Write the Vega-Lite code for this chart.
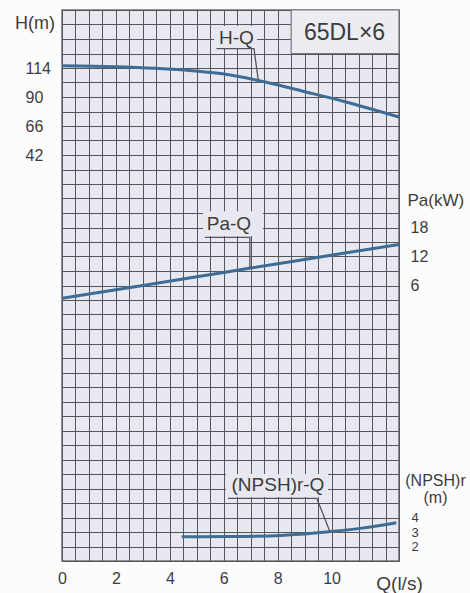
{
  "$schema": "https://vega.github.io/schema/vega-lite/v6.json",
  "width": 337,
  "height": 551,
  "autosize": {"type": "none"},
  "padding": {"left": 62, "top": 10, "right": 71, "bottom": 32},
  "background": "#fcfcfd",
  "config": {
    "font": "Liberation Sans",
    "view": {"fill": "#e8e8f1", "stroke": "#707078", "strokeWidth": 1.5},
    "axis": {"labelFont": "Liberation Sans", "titleFont": "Liberation Sans", "labelColor": "#3c3c3c", "titleColor": "#3c3c3c", "titleFontWeight": "normal", "domain": false, "ticks": false, "tickSize": 0, "labelOverlap": false, "labelFlush": false, "zindex": 0}
  },
  "datasets": {
    "hq": [
      {"Q": 0, "H": 115.9}, {"Q": 1.97, "H": 115.1}, {"Q": 3.45, "H": 113.8}, {"Q": 4.93, "H": 111.6},
      {"Q": 6.08, "H": 108.8}, {"Q": 7.53, "H": 102.4}, {"Q": 9.01, "H": 94.4}, {"Q": 10.5, "H": 86.1}, {"Q": 12.5, "H": 73.4}
    ],
    "pq": [
      {"Q": 0, "Pa": 3.35}, {"Q": 3, "Pa": 6.0}, {"Q": 6, "Pa": 8.7}, {"Q": 9, "Pa": 11.4}, {"Q": 12.5, "Pa": 14.5}
    ],
    "nq": [
      {"Q": 4.44, "NPSH": 2.67}, {"Q": 6.2, "NPSH": 2.69}, {"Q": 7.7, "NPSH": 2.72}, {"Q": 8.8, "NPSH": 2.84},
      {"Q": 9.9, "NPSH": 3.02}, {"Q": 11.05, "NPSH": 3.25}, {"Q": 12.4, "NPSH": 3.64}
    ],
    "boxes": [
      {"name": "H-Q", "q1": 5.64, "q2": 7.23, "h1": 148.8, "h2": 130.6},
      {"name": "Pa-Q", "q1": 5.23, "q2": 7.45, "h1": -4.5, "h2": -25.0},
      {"name": "(NPSH)r-Q", "q1": 6.08, "q2": 9.87, "h1": -222, "h2": -241}
    ],
    "model": [{"name": "65DL×6", "q1": 8.5, "q2": 12.5, "h1": 162, "h2": 126, "Q": 10.48, "h": 142.7}],
    "leaders": [
      {"name": "H-Q", "seq": 1, "Q": 5.73, "h": 130.0},
      {"name": "H-Q", "seq": 2, "Q": 7.12, "h": 130.0},
      {"name": "H-Q", "seq": 3, "Q": 7.28, "h": 104.0},
      {"name": "Pa-Q", "seq": 1, "Q": 5.3, "h": -26.1},
      {"name": "Pa-Q", "seq": 2, "Q": 6.97, "h": -26.1},
      {"name": "Pa-Q", "seq": 3, "Q": 6.97, "h": -51.9},
      {"name": "(NPSH)r-Q", "seq": 1, "Q": 6.16, "h": -242.1},
      {"name": "(NPSH)r-Q", "seq": 2, "Q": 9.45, "h": -242.1},
      {"name": "(NPSH)r-Q", "seq": 3, "Q": 9.94, "h": -269.8}
    ],
    "labels": [
      {"name": "H-Q", "Q": 6.47, "h": 138.8},
      {"name": "Pa-Q", "Q": 6.19, "h": -15.5},
      {"name": "(NPSH)r-Q", "Q": 8.01, "h": -231.1}
    ]
  },
  "layer": [
    {
      "data": {"name": "hq"},
      "mark": {"type": "line", "interpolate": "monotone", "stroke": "#3f6c94", "strokeWidth": 3},
      "encoding": {
        "x": {
          "field": "Q", "type": "quantitative",
          "scale": {"domain": [0, 12.5], "nice": false, "zero": false},
          "axis": {
            "orient": "bottom",
            "values": [0, 0.5, 1, 1.5, 2, 2.5, 3, 3.5, 4, 4.5, 5, 5.5, 6, 6.5, 7, 7.5, 8, 8.5, 9, 9.5, 10, 10.5, 11, 11.5, 12, 12.5],
            "labels": false, "title": null,
            "grid": true, "gridColor": "#55555c", "gridWidth": 1, "gridOpacity": 1
          }
        },
        "y": {
          "field": "H", "type": "quantitative",
          "scale": {"domain": [-294, 162], "nice": false, "zero": false},
          "axis": {
            "orient": "left",
            "values": [-294, -282, -270, -258, -246, -234, -222, -210, -198, -186, -174, -162, -150, -138, -126, -114, -102, -90, -78, -66, -54, -42, -30, -18, -6, 6, 18, 30, 42, 54, 66, 78, 90, 102, 114, 126, 138, 150, 162],
            "labelExpr": "indexof([42, 66, 90, 114], datum.value) >= 0 ? format(datum.value, 'd') : ''",
            "grid": true, "gridColor": "#55555c", "gridWidth": 1, "gridOpacity": 1,
            "labelFontSize": 16, "labelAlign": "left", "labelPadding": 37, "labelBaseline": "middle",
            "title": "H(m)", "titleFontSize": 18, "titleAngle": 0, "titleX": -27.5, "titleY": 13, "titleAlign": "center", "titleBaseline": "middle"
          }
        }
      }
    },
    {
      "data": {"name": "pq"},
      "mark": {"type": "line", "interpolate": "monotone", "stroke": "#3f6c94", "strokeWidth": 3},
      "encoding": {
        "x": {
          "field": "Q", "type": "quantitative",
          "scale": {"domain": [0, 12.5], "nice": false, "zero": false},
          "axis": {
            "orient": "bottom", "values": [0, 2, 4, 6, 8, 10], "format": "d", "grid": false,
            "labelFontSize": 16, "labelPadding": 9, "labelBaseline": "top",
            "title": "Q(l/s)", "titleFontSize": 19, "titleX": 337, "titleY": 22, "titleAlign": "center", "titleBaseline": "middle", "titleAngle": 0
          }
        },
        "y": {
          "field": "Pa", "type": "quantitative",
          "scale": {"domain": [-51, 63], "nice": false, "zero": false},
          "axis": {
            "orient": "right", "values": [6, 12, 18], "grid": false,
            "labelFontSize": 16, "labelAlign": "left", "labelPadding": 11, "labelBaseline": "middle",
            "title": "Pa(kW)", "titleFontSize": 17, "titleAngle": 0, "titleX": 8, "titleY": 190.7, "titleAlign": "left", "titleBaseline": "middle"
          }
        }
      }
    },
    {
      "data": {"name": "nq"},
      "mark": {"type": "line", "interpolate": "monotone", "stroke": "#3f6c94", "strokeWidth": 3},
      "encoding": {
        "x": {"field": "Q", "type": "quantitative", "scale": {"domain": [0, 12.5], "nice": false, "zero": false}, "axis": null},
        "y": {
          "field": "NPSH", "type": "quantitative",
          "scale": {"domain": [1, 39], "nice": false, "zero": false},
          "axis": {
            "orient": "right", "values": [2, 3, 4], "grid": false,
            "labelFontSize": 13, "labelAlign": "left", "labelPadding": 12, "labelBaseline": "middle",
            "title": ["(NPSH)r", "(m)"], "titleFontSize": 16, "titleLineHeight": 16.5, "titleAngle": 0, "titleX": 36, "titleY": 470.5, "titleAlign": "center", "titleBaseline": "middle"
          }
        }
      }
    },
    {
      "data": {"name": "boxes"},
      "mark": {"type": "rect", "fill": "#e8e8f1"},
      "encoding": {
        "x": {"field": "q1", "type": "quantitative", "scale": {"domain": [0, 12.5], "nice": false, "zero": false}, "axis": null},
        "x2": {"field": "q2"},
        "y": {"field": "h1", "type": "quantitative", "scale": {"domain": [-294, 162], "nice": false, "zero": false}, "axis": null},
        "y2": {"field": "h2"}
      }
    },
    {
      "data": {"name": "model"},
      "mark": {"type": "rect", "fill": "#ececf3", "stroke": "#7a7a80", "strokeWidth": 1.2},
      "encoding": {
        "x": {"field": "q1", "type": "quantitative", "scale": {"domain": [0, 12.5], "nice": false, "zero": false}, "axis": null},
        "x2": {"field": "q2"},
        "y": {"field": "h1", "type": "quantitative", "scale": {"domain": [-294, 162], "nice": false, "zero": false}, "axis": null},
        "y2": {"field": "h2"}
      }
    },
    {
      "data": {"name": "model"},
      "mark": {"type": "text", "fontSize": 23, "color": "#3c3c3c", "align": "center", "baseline": "middle", "font": "Liberation Sans"},
      "encoding": {
        "x": {"field": "Q", "type": "quantitative", "scale": {"domain": [0, 12.5], "nice": false, "zero": false}, "axis": null},
        "y": {"field": "h", "type": "quantitative", "scale": {"domain": [-294, 162], "nice": false, "zero": false}, "axis": null},
        "text": {"field": "name"}
      }
    },
    {
      "data": {"name": "leaders"},
      "mark": {"type": "line", "stroke": "#55555c", "strokeWidth": 1.3},
      "encoding": {
        "x": {"field": "Q", "type": "quantitative", "scale": {"domain": [0, 12.5], "nice": false, "zero": false}, "axis": null},
        "y": {"field": "h", "type": "quantitative", "scale": {"domain": [-294, 162], "nice": false, "zero": false}, "axis": null},
        "detail": {"field": "name"},
        "order": {"field": "seq"}
      }
    },
    {
      "data": {"name": "labels"},
      "mark": {"type": "text", "fontSize": 19, "color": "#3c3c3c", "align": "center", "baseline": "middle", "font": "Liberation Sans"},
      "encoding": {
        "x": {"field": "Q", "type": "quantitative", "scale": {"domain": [0, 12.5], "nice": false, "zero": false}, "axis": null},
        "y": {"field": "h", "type": "quantitative", "scale": {"domain": [-294, 162], "nice": false, "zero": false}, "axis": null},
        "text": {"field": "name"}
      }
    }
  ],
  "resolve": {"scale": {"y": "independent"}, "axis": {"x": "independent"}}
}
